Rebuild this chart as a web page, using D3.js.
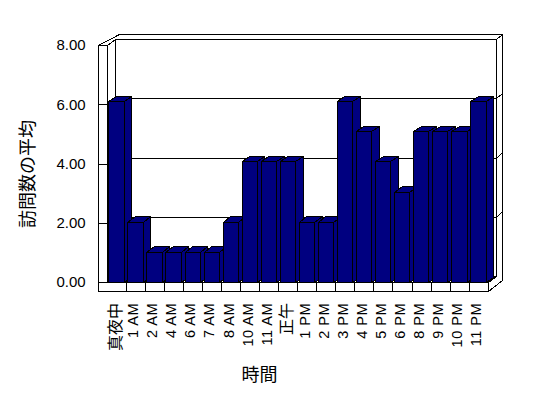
<!DOCTYPE html>
<html>
<head>
    <meta charset="utf-8">
    <title>visits-by-hour-3d</title>
    <style>
body { margin: 0; background: #fff; }
svg { display: block; }
.wall { fill: #fff; stroke: #000; stroke-width: 1; shape-rendering: crispEdges; }
.grid { stroke: #000; stroke-width: 1; fill: none; shape-rendering: crispEdges; }
.bar { fill: #000080; stroke: #000; stroke-width: 1; shape-rendering: crispEdges; }
.title { font-family: "Noto Sans CJK JP", sans-serif; font-size: 18px; fill: #000; }
</style>
</head>
<body>
<script src="https://cdn.jsdelivr.net/npm/d3@7"></script>
<script>
// data
var hours = ["真夜中", "1 AM", "2 AM", "4 AM", "6 AM", "7 AM", "8 AM", "10 AM", "11 AM", "正午",
             "1 PM", "2 PM", "3 PM", "4 PM", "5 PM", "6 PM", "8 PM", "9 PM", "10 PM", "11 PM"];
var visits = [6, 2, 1, 1, 1, 1, 2, 4, 4, 4, 2, 2, 6, 5, 4, 3, 5, 5, 5, 6];
var yTicks = [0, 2, 4, 6, 8];
var yTitle = "訪問数の平均";
var xTitle = "時間";

var totalWidth = 548, totalHeight = 398;

// box geometry (oblique 3D like the old spreadsheet chart)
var left = 106.7, right = 487.7, floorY = 282, topY = 45;
var wall = 9;                 // wall / floor thickness seen from the front
var dx = 8, dy = -6;          // depth of the plot box
var bx = 6.5, by = -5.5;      // thickness of the back wall
var barDx = 7.5, barDy = -5.5;

function p(v) { return Math.round(v) + 0.5; }
function pts(arr) { return arr.map(function (a) { return p(a[0]) + "," + p(a[1]); }).join(" "); }
function isCJK(s) { return /[^\x00-\x7f]/.test(s); }

var svg = d3.select("body").append("svg")
    .attr("width", totalWidth)
    .attr("height", totalHeight);

var x = d3.scaleBand()
    .domain(hours)
    .range([left, right])
    .padding(0);

var yFront = d3.scaleLinear().domain([0, 8]).range([floorY, topY]);
var yBack = d3.scaleLinear().domain([0, 8]).range([floorY + dy, topY + dy]);
var yBar = d3.scaleLinear().domain([0, 8]).range([floorY, 40.7]);

// right side of back wall + floor
svg.append("polygon").attr("class", "wall")
    .attr("points", pts([[right + dx, topY + dy], [right + dx + bx, topY + dy + by],
        [right + dx + bx, floorY + wall + dy + by], [right, floorY + wall],
        [right, floorY], [right + dx, floorY + dy]]));

// back wall
svg.append("polygon").attr("class", "wall")
    .attr("points", pts([[left + dx, topY + dy], [right + dx, topY + dy],
        [right + dx, floorY + dy], [left + dx, floorY + dy]]));

// top edge of the walls
svg.append("polygon").attr("class", "wall")
    .attr("points", pts([[left - wall, topY], [left + dx + bx - wall + 7, topY + dy + by],
        [right + dx + bx, topY + dy + by], [right + dx, topY + dy],
        [left + dx, topY + dy], [left, topY]]));

// inner face of left wall
svg.append("polygon").attr("class", "wall")
    .attr("points", pts([[left, topY], [left + dx, topY + dy],
        [left + dx, floorY + dy], [left, floorY]]));

// floor top
svg.append("polygon").attr("class", "wall")
    .attr("points", pts([[left, floorY], [left + dx, floorY + dy],
        [right + dx, floorY + dy], [right, floorY]]));

// gridlines: left wall, back wall, its right edge
var grid = svg.append("g");
yTicks.filter(function (d) { return d > 0 && d < 8; }).forEach(function (d) {
    grid.append("path").attr("class", "grid")
        .attr("d", "M" + p(left) + "," + p(yFront(d)) + "L" + p(left + dx) + "," + p(yBack(d)) +
            "L" + p(right + dx) + "," + p(yBack(d)) + "L" + p(right + dx + bx) + "," + p(yBack(d) + by));
});

// left wall front face
svg.append("rect").attr("class", "wall")
    .attr("x", p(left - wall)).attr("y", p(topY))
    .attr("width", Math.round(wall)).attr("height", Math.round(floorY - topY));

yTicks.filter(function (d) { return d > 0 && d < 8; }).forEach(function (d) {
    svg.append("line").attr("class", "grid")
        .attr("x1", p(left - wall)).attr("x2", p(left))
        .attr("y1", p(yFront(d))).attr("y2", p(yFront(d)));
});

// floor front face, split per category
svg.append("rect").attr("class", "wall")
    .attr("x", p(left - wall)).attr("y", p(floorY))
    .attr("width", Math.round(right - left + wall)).attr("height", wall);
svg.append("g").selectAll("line")
    .data(hours.slice(1))
    .enter().append("line").attr("class", "grid")
    .attr("x1", function (d) { return p(x(d)); })
    .attr("x2", function (d) { return p(x(d)); })
    .attr("y1", p(floorY)).attr("y2", p(floorY + wall));

// bars, left to right so each front covers the previous side
var inset = 1.6, barW = 15.3;
var bars = svg.append("g").selectAll("g")
    .data(hours)
    .enter().append("g");

bars.append("polygon").attr("class", "bar")
    .attr("points", function (d, i) {
        var x0 = x(d) + inset + barW, t = yBar(visits[i]);
        return pts([[x0, t], [x0 + barDx, t + barDy], [x0 + barDx, floorY + barDy], [x0, floorY]]);
    });
bars.append("polygon").attr("class", "bar")
    .attr("points", function (d, i) {
        var x0 = x(d) + inset, t = yBar(visits[i]);
        return pts([[x0, t], [x0 + barDx, t + barDy], [x0 + barW + barDx, t + barDy], [x0 + barW, t]]);
    });
bars.append("polygon").attr("class", "bar")
    .attr("points", function (d, i) {
        var x0 = x(d) + inset, t = yBar(visits[i]);
        return pts([[x0, t], [x0 + barW, t], [x0 + barW, floorY], [x0, floorY]]);
    });

// y axis labels
var yAxis = svg.append("g")
    .attr("transform", "translate(" + (left - wall) + ",0)")
    .call(d3.axisLeft(yFront).tickValues(yTicks).tickFormat(d3.format(".2f")).tickSize(0).tickPadding(12));
yAxis.select(".domain").remove();
yAxis.selectAll("text")
    .style("font-family", "'Liberation Sans', Arial, sans-serif")
    .style("font-size", "15px")
    .style("fill", "#000");

// x axis labels, rotated
var xAxis = svg.append("g")
    .attr("transform", "translate(0,303)")
    .call(d3.axisBottom(x).tickSize(0).tickPadding(0));
xAxis.select(".domain").remove();
xAxis.selectAll("text")
    .attr("transform", "rotate(-90)")
    .attr("text-anchor", "end")
    .attr("x", 0)
    .attr("dy", null)
    .attr("y", function (d) { return isCJK(d) ? 4.5 : 3; })
    .style("font-family", function (d) { return isCJK(d) ? "'Noto Sans CJK JP', sans-serif" : "'Liberation Sans', Arial, sans-serif"; })
    .style("font-size", function (d) { return isCJK(d) ? "16px" : "14.5px"; })
    .style("letter-spacing", function (d) { return isCJK(d) ? null : "0.5px"; })
    .style("fill", "#000");

// titles
svg.append("text").attr("class", "title")
    .attr("transform", "translate(34,174) rotate(-90)")
    .attr("text-anchor", "middle")
    .text(yTitle);
svg.append("text").attr("class", "title")
    .attr("x", 259.5).attr("y", 381)
    .attr("text-anchor", "middle")
    .text(xTitle);
</script>
</body>
</html>
